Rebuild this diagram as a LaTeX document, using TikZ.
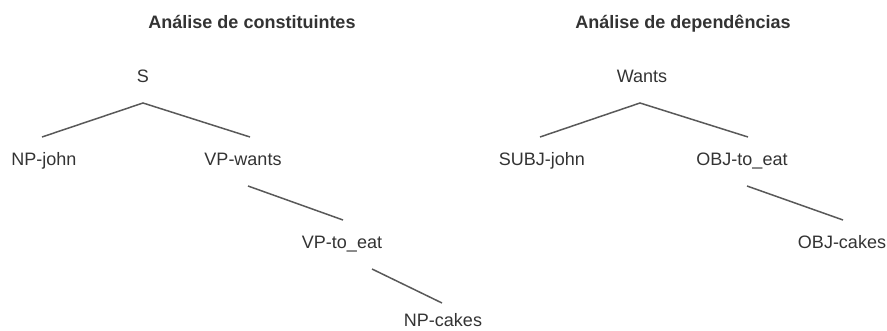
\documentclass[tikz,border=0pt]{standalone}
\usepackage{fontspec}
\setmainfont{Liberation Sans}
\definecolor{txt}{HTML}{333333}
\definecolor{edge}{HTML}{595959}
\begin{document}
\begin{tikzpicture}[x=1pt,y=-1pt,
  lbl/.style={anchor=base,inner sep=0pt,text=txt,font=\fontsize{18}{20}\selectfont},
  ttl/.style={anchor=base,inner sep=0pt,text=txt,font=\fontsize{18}{20}\selectfont\bfseries},
  branch/.style={draw=edge,line width=1.5pt}]
\useasboundingbox (0,0) rectangle (887,331);

% titles
\node[ttl] (t1) at (252,29) {Análise de constituintes};
\node[ttl] (t2) at (683,29) {Análise de dependências};

% constituent tree
\node[lbl] (s)    at (143,83)  {S};
\node[lbl] (npj)  at (44,166)  {NP-john};
\node[lbl] (vpw)  at (243,166) {VP-wants};
\node[lbl] (vpt)  at (342,249) {VP-to\_eat};
\node[lbl] (npc)  at (443,326.5) {NP-cakes};

\coordinate (s-b) at (143,103);
\coordinate (npj-t) at (42,137);
\coordinate (vpw-t) at (250,137);
\coordinate (vpw-b) at (248,186);
\coordinate (vpt-t) at (343,220);
\coordinate (vpt-b) at (372,269);
\coordinate (npc-t) at (442,303);
\draw[branch] (npj-t) -- (s-b) -- (vpw-t);
\draw[branch] (vpw-b) -- (vpt-t);
\draw[branch] (vpt-b) -- (npc-t);

% dependency tree
\node[lbl] (w)    at (642,83)  {Wants};
\node[lbl] (sj)   at (542,166) {SUBJ-john};
\node[lbl] (ot)   at (742,166) {OBJ-to\_eat};
\node[lbl] (oc)   at (842,249) {OBJ-cakes};

\coordinate (w-b) at (640,103);
\coordinate (sj-t) at (540,137);
\coordinate (ot-t) at (748,137);
\coordinate (ot-b) at (747,186);
\coordinate (oc-t) at (843,220);
\draw[branch] (sj-t) -- (w-b) -- (ot-t);
\draw[branch] (ot-b) -- (oc-t);
\end{tikzpicture}
\end{document}
